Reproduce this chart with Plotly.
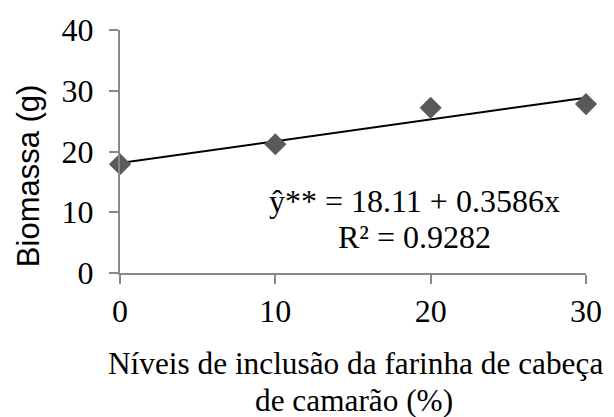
import plotly.graph_objects as go

# Data
niveis = [0, 10, 20, 30]
biomassa = [17.9, 21.2, 27.2, 27.8]
intercept = 18.11
slope = 0.3586
x_ticks = [0, 10, 20, 30]
y_ticks = [0, 10, 20, 30, 40]
eq_line1 = "ŷ** = 18.11 + 0.3586x"
eq_line2 = "R² = 0.9282"
x_title_1 = "Níveis de inclusão da farinha de cabeça"
x_title_2 = "de camarão (%)"
y_title = "Biomassa (g)"

trend_x = [min(niveis), max(niveis)]
trend_y = [intercept + slope * v for v in trend_x]

SERIF = "Liberation Serif, Times New Roman, serif"
SANS = "Liberation Sans, Arial, sans-serif"
AXIS_COLOR = "#898989"

fig = go.Figure()
fig.add_trace(go.Scatter(
    x=trend_x, y=trend_y, mode="lines",
    line=dict(color="black", width=2), cliponaxis=False, showlegend=False,
))
fig.add_trace(go.Scatter(
    x=niveis, y=biomassa, mode="markers",
    marker=dict(symbol="diamond", size=17, color="#595959"),
    cliponaxis=False, showlegend=False,
))

fig.update_layout(
    width=614, height=417,
    margin=dict(l=120, r=21, t=28, b=144),
    plot_bgcolor="white", paper_bgcolor="white",
    font=dict(family=SERIF, size=32, color="black"),
    xaxis=dict(
        range=[0, 30], tickvals=x_ticks, showgrid=False, zeroline=False,
        showline=True, linecolor=AXIS_COLOR, linewidth=2,
        ticks="outside", ticklen=9, tickwidth=2, tickcolor=AXIS_COLOR,
        tickfont=dict(family=SERIF, size=32, color="black"),
    ),
    yaxis=dict(
        range=[0, 40], tickvals=y_ticks, showgrid=False, zeroline=False,
        showline=True, linecolor=AXIS_COLOR, linewidth=2,
        ticks="outside", ticklen=9, tickwidth=2, tickcolor=AXIS_COLOR,
        ticklabelstandoff=9,
        tickfont=dict(family=SERIF, size=32, color="black"),
    ),
)

def px_x(p):
    return (p - 120) / 473.0

def px_y(p):
    return (273 - p) / 245.0

annots = [
    dict(text=eq_line1, x=px_x(419), y=px_y(200), font=dict(family=SERIF, size=32)),
    dict(text=eq_line2, x=px_x(419), y=px_y(237), font=dict(family=SERIF, size=32)),
    dict(text=x_title_1, x=px_x(359), y=px_y(364), font=dict(family=SERIF, size=31.3)),
    dict(text=x_title_2, x=px_x(358), y=px_y(402), font=dict(family=SERIF, size=31.3)),
    dict(text=y_title, x=px_x(27), y=px_y(175), textangle=-90, font=dict(family=SANS, size=31)),
]
for a in annots:
    fig.add_annotation(xref="paper", yref="paper", showarrow=False,
                       xanchor="center", yanchor="middle", **a)

# remove the default 8px page margin so the figure fills the window exactly
fig.write_html(
    "out.html",
    config={"displayModeBar": False},
    post_script="document.body.style.margin='0';document.body.style.overflow='hidden';",
)
